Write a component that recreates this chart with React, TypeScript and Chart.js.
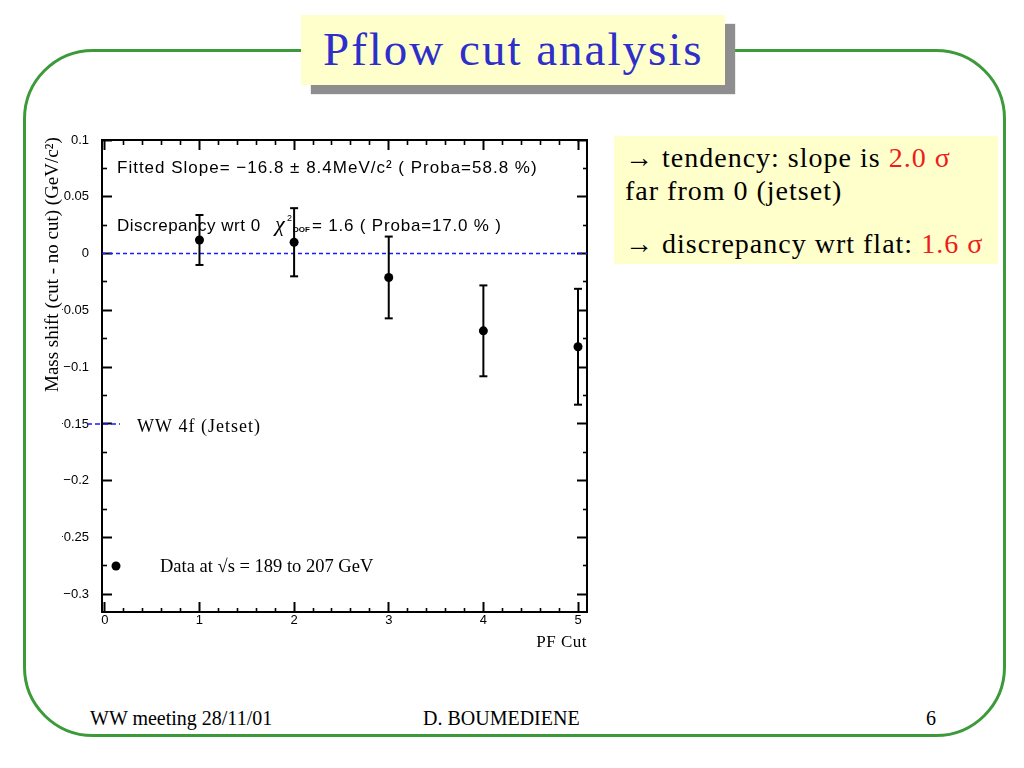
import React, { useEffect, useRef } from "react";
import { Chart, registerables } from "chart.js";

Chart.register(...registerables);

// ---------------- data ----------------
const pfCuts = [1, 2, 3, 4, 5];
const massShift = [0.012, 0.01, -0.021, -0.068, -0.082];
const massShiftError = [0.022, 0.03, 0.036, 0.04, 0.051];
const jetsetLevel = 0;
const xBounds = [-0.03, 5.095];
const yBounds = [-0.3155, 0.1];
const xMajorStep = 1;
const xMinorStep = 0.2;
const yMajorStep = 0.05;
const yMinorStep = 0.025;

// ---------------- texts ----------------
const titleText = "Pflow cut analysis";
const fitLabel = "Fitted Slope= \u221216.8 \u00b1 8.4MeV/c\u00b2 ( Proba=58.8 %)";
const discrepancyLabel = "Discrepancy wrt 0";
const chiSymbol = "\u03c7";
const chiSup = "2";
const chiSub = "DOF";
const chiLabel = "= 1.6 ( Proba=17.0 % )";
const jetsetLegend = "WW 4f (Jetset)";
const dataLegend = "Data at \u221as = 189 to 207 GeV";
const yTitle = "Mass shift (cut - no cut) (GeV/c\u00b2)";
const xTitle = "PF Cut";
const footerLeft = "WW meeting 28/11/01";
const footerCenter = "D. BOUMEDIENE";
const footerRight = "6";

const BLUE_TITLE = "#2e2ecb";
const GREEN = "#3d9a3a";
const YELLOW = "#ffffcc";
const RED = "#ee1c1c";

const isMajor = (v: number, step: number) =>
  Math.abs(v / step - Math.round(v / step)) < 1e-6;

const fmt = (v: number) => {
  const r = Math.round(v * 1000) / 1000;
  if (Math.abs(r) < 1e-9) return "0";
  const s = Math.abs(r).toString();
  return r < 0 ? "\u2212" + s : s;
};

const tickGrid = (majorStep: number, dashFromBorder: boolean) => ({
  drawOnChartArea: false,
  drawTicks: true,
  tickLength: -10,
  tickColor: "#000",
  tickWidth: (c: any) => (c.tick && isMajor(c.tick.value, majorStep) ? 2 : 1.6),
  tickBorderDash: (c: any) =>
    c.tick && isMajor(c.tick.value, majorStep) ? [] : dashFromBorder ? [5, 30] : [5, 5],
  tickBorderDashOffset: (c: any) =>
    c.tick && isMajor(c.tick.value, majorStep) ? 0 : dashFromBorder ? 0 : 5,
});

const frameBorder = { display: true, color: "#000", width: 2 };

const overlayPlugin = {
  id: "overlay",
  afterDraw(chart: any) {
    const { ctx, chartArea: a } = chart;
    ctx.save();
    ctx.fillStyle = "#000";
    ctx.textBaseline = "alphabetic";
    ctx.textAlign = "left";

    // fit results
    ctx.font = '17px "Liberation Sans"';
    (ctx as any).letterSpacing = "1px";
    ctx.fillText(fitLabel, a.left + 15, a.top + 33);
    (ctx as any).letterSpacing = "0.5px";
    ctx.fillText(discrepancyLabel, a.left + 15, a.top + 91);
    (ctx as any).letterSpacing = "0px";
    ctx.font = 'italic 22px "Liberation Serif"';
    ctx.fillText(chiSymbol, a.left + 173, a.top + 91);
    ctx.font = '9px "Liberation Sans"';
    ctx.fillText(chiSup, a.left + 185, a.top + 81);
    ctx.font = 'bold 8px "Liberation Sans"';
    ctx.fillText(chiSub, a.left + 191, a.top + 92);
    ctx.font = '17px "Liberation Sans"';
    (ctx as any).letterSpacing = "0.8px";
    ctx.fillText(chiLabel, a.left + 210, a.top + 91);

    // legend: jetset
    ctx.strokeStyle = "#1a1aff";
    ctx.lineWidth = 1.5;
    ctx.setLineDash([5, 3]);
    ctx.beginPath();
    ctx.moveTo(a.left - 15, a.top + 284);
    ctx.lineTo(a.left + 18, a.top + 284);
    ctx.stroke();
    ctx.setLineDash([]);
    ctx.font = '18px "Liberation Serif"';
    (ctx as any).letterSpacing = "1px";
    ctx.fillText(jetsetLegend, a.left + 35, a.top + 292);

    // legend: data
    ctx.beginPath();
    ctx.arc(a.left + 14, a.top + 426, 4.5, 0, Math.PI * 2);
    ctx.fill();
    ctx.font = '18.5px "Liberation Serif"';
    (ctx as any).letterSpacing = "0px";
    ctx.fillText(dataLegend, a.left + 58, a.top + 432);

    // x title
    ctx.font = '17px "Liberation Serif"';
    (ctx as any).letterSpacing = "0.5px";
    ctx.textAlign = "right";
    ctx.fillText(xTitle, a.right, a.bottom + 35);
    (ctx as any).letterSpacing = "0px";

    // y title
    ctx.textAlign = "left";
    ctx.translate(a.left - 44, a.bottom - 220);
    ctx.rotate(-Math.PI / 2);
    ctx.font = '19px "Liberation Serif"';
    ctx.fillText(yTitle, 0, 0);
    ctx.restore();
  },
};

function Txt(props: {
  x: number;
  baseline: number;
  size: number;
  color?: string;
  spacing?: number;
  family?: string;
  children: React.ReactNode;
}) {
  const { x, baseline, size, color = "#000", spacing = 0, family = '"Liberation Serif"' } = props;
  return (
    <div
      style={{
        position: "absolute",
        left: x,
        top: baseline - 0.8375 * size,
        fontFamily: family,
        fontSize: size,
        lineHeight: `${size}px`,
        color,
        letterSpacing: spacing,
        whiteSpace: "nowrap",
      }}
    >
      {props.children}
    </div>
  );
}

export default function App() {
  const canvasRef = useRef<HTMLCanvasElement | null>(null);

  useEffect(() => {
    if (!canvasRef.current) return;
    const points = pfCuts.map((c, i) => ({ x: c, y: massShift[i] }));
    const errorSets = pfCuts.map((c, i) => ({
      label: "err" + i,
      data: [
        { x: c, y: massShift[i] - massShiftError[i] },
        { x: c, y: massShift[i] + massShiftError[i] },
      ],
      showLine: true,
      borderColor: "#000",
      borderWidth: 2,
      pointStyle: "line",
      pointRadius: 4,
      pointBorderWidth: 2,
      pointBorderColor: "#000",
      pointBackgroundColor: "#000",
    }));
    const tickFont = { family: '"Liberation Sans"', size: 13 };
    const chart = new Chart(canvasRef.current, {
      type: "scatter",
      data: {
        datasets: [
          {
            label: "data",
            data: points,
            pointRadius: 4.5,
            pointBackgroundColor: "#000",
            pointBorderColor: "#000",
            pointBorderWidth: 0,
            showLine: false,
          },
          ...errorSets,
          {
            label: "jetset",
            data: [
              { x: xBounds[0], y: jetsetLevel },
              { x: xBounds[1], y: jetsetLevel },
            ],
            showLine: true,
            borderColor: "#1a1aff",
            borderWidth: 1.5,
            borderDash: [4, 3],
            pointRadius: 0,
          },
        ] as any,
      },
      options: {
        responsive: false,
        animation: false,
        layout: { padding: { left: 62, right: 437, top: 140, bottom: 116 } },
        plugins: {
          legend: { display: false },
          tooltip: { enabled: false },
          title: { display: false },
        },
        scales: {
          x: {
            type: "linear",
            position: "bottom",
            min: xBounds[0],
            max: xBounds[1],
            afterFit: (s: any) => {
              s.height = 40;
            },
            ticks: {
              stepSize: xMinorStep,
              autoSkip: false,
              includeBounds: false,
              maxRotation: 0,
              padding: 11,
              color: "#000",
              font: tickFont,
              callback: (v: any) => (isMajor(Number(v), xMajorStep) ? fmt(Number(v)) : ""),
            },
            grid: tickGrid(xMajorStep, true) as any,
            border: frameBorder,
          },
          x2: {
            type: "linear",
            axis: "x",
            position: "top",
            min: xBounds[0],
            max: xBounds[1],
            afterFit: (s: any) => {
              s.height = 0;
            },
            ticks: { display: false, stepSize: xMinorStep, autoSkip: false, includeBounds: false },
            grid: tickGrid(xMajorStep, false) as any,
            border: frameBorder,
          },
          y: {
            type: "linear",
            position: "left",
            min: yBounds[0],
            max: yBounds[1],
            afterFit: (s: any) => {
              s.width = 40;
            },
            ticks: {
              stepSize: yMinorStep,
              autoSkip: false,
              includeBounds: false,
              padding: 23,
              color: "#000",
              font: tickFont,
              callback: (v: any) => (isMajor(Number(v), yMajorStep) ? fmt(Number(v)) : ""),
            },
            grid: tickGrid(yMajorStep, false) as any,
            border: frameBorder,
          },
          y2: {
            type: "linear",
            axis: "y",
            position: "right",
            min: yBounds[0],
            max: yBounds[1],
            afterFit: (s: any) => {
              s.width = 0;
            },
            ticks: { display: false, stepSize: yMinorStep, autoSkip: false, includeBounds: false },
            grid: tickGrid(yMajorStep, true) as any,
            border: frameBorder,
          },
        } as any,
      },
      plugins: [overlayPlugin],
    });
    return () => chart.destroy();
  }, []);

  return (
    <div
      style={{
        position: "absolute",
        left: 0,
        top: 0,
        width: 1024,
        height: 768,
        background: "#fff",
        overflow: "hidden",
      }}
    >
      {/* slide frame */}
      <div
        style={{
          position: "absolute",
          left: 23,
          top: 49,
          width: 983,
          height: 688,
          boxSizing: "border-box",
          border: `3px solid ${GREEN}`,
          borderRadius: 70,
        }}
      />
      {/* title box */}
      <div
        style={{
          position: "absolute",
          left: 301,
          top: 15,
          width: 424,
          height: 70,
          background: YELLOW,
          boxShadow: "10px 9px 1px #8e8e8e",
        }}
      />
      <Txt x={323} baseline={65} size={47} color={BLUE_TITLE} spacing={2}>
        {titleText}
      </Txt>
      {/* comment box */}
      <div
        style={{
          position: "absolute",
          left: 614,
          top: 136,
          width: 384,
          height: 128,
          background: YELLOW,
        }}
      />
      <Txt x={625} baseline={167} size={28} spacing={1}>
        {"\u2192 tendency: slope is "}
        <span style={{ color: RED }}>{"2.0 \u03c3"}</span>
      </Txt>
      <Txt x={625} baseline={200} size={28} spacing={1}>
        {"far from 0 (jetset)"}
      </Txt>
      <Txt x={625} baseline={253} size={28} spacing={1}>
        {"\u2192 discrepancy wrt flat: "}
        <span style={{ color: RED }}>{"1.6 \u03c3"}</span>
      </Txt>
      {/* footer */}
      <Txt x={90} baseline={725} size={20}>
        {footerLeft}
      </Txt>
      <Txt x={423} baseline={725} size={20}>
        {footerCenter}
      </Txt>
      <Txt x={926} baseline={725} size={20}>
        {footerRight}
      </Txt>
      <canvas
        ref={canvasRef}
        width={1024}
        height={768}
        style={{ position: "absolute", left: 0, top: 0, width: 1024, height: 768, display: "block" }}
      />
    </div>
  );
}
